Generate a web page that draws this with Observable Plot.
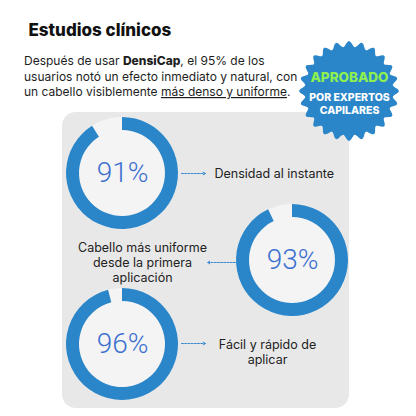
<!DOCTYPE html>
<html><head><meta charset="utf-8">
<script src="https://cdn.jsdelivr.net/npm/d3@7"></script>
<script src="https://cdn.jsdelivr.net/npm/@observablehq/plot@0.6"></script>
<style>body{margin:0;background:#fff}</style>
</head><body><div id="chart"></div>
<script>
// ---- data ----
const title = "Estudios clínicos";
const introLines = [
  [["Después de usar ", ""], ["DensiCap", "b"], [", el 95% de los", ""]],
  [["usuarios notó un efecto inmediato y natural, con", ""]],
  [["un cabello visiblemente ", ""], ["más denso y uniforme", "u"], [".", ""]]
];
const badgeLines = ["APROBADO", "POR EXPERTOS", "CAPILARES"];
const percents = [91, 93, 96];
const benefits = ["Densidad al instante", "Cabello más uniforme\ndesde la primera\naplicación", "Fácil y rápido de\naplicar"];

// ---- layout ----
const donutX = [122, 292, 122];
const donutY = [173, 260, 344];
const labelX = [214, 142, 267];
const labelY = [173, 262, 351];
const labelAnchor = ["start", "middle", "middle"];
const arrowX1 = [181, 235, 181], arrowX2 = [205, 207, 205];
const arrowY = [173, 262, 343];
const R_OUT = 56, R_IN = 43;
const FONT = "Inter, 'Open Sans', sans-serif";

const donuts = percents.map((p, i) => ({p, label: p + "%", x: donutX[i], y: donutY[i]}));
const labels = benefits.map((t, i) => ({t, x: labelX[i], y: labelY[i], a: labelAnchor[i]}));
const arrows = percents.map((p, i) => ({x1: arrowX1[i], x2: arrowX2[i], y: arrowY[i]}));

const svgNS = "http://www.w3.org/2000/svg";

function introMark(index, scales) {
  const g = document.createElementNS(svgNS, "g");
  introLines.forEach((segs, i) => {
    const t = document.createElementNS(svgNS, "text");
    t.setAttribute("x", scales.x(24));
    t.setAttribute("y", scales.y(65 + i * 15.5));
    t.setAttribute("text-anchor", "start");
    t.setAttribute("font-family", FONT);
    t.setAttribute("font-size", 12);
    t.setAttribute("fill", "#1e1e1e");
    segs.forEach(([s, st]) => {
      const ts = document.createElementNS(svgNS, "tspan");
      ts.textContent = s;
      if (st === "b") ts.setAttribute("font-weight", "800");
      if (st === "u") ts.setAttribute("text-decoration", "underline");
      t.appendChild(ts);
    });
    g.appendChild(t);
  });
  return g;
}

function donutMark(index, scales) {
  const g = document.createElementNS(svgNS, "g");
  const arc = d3.arc();
  donuts.forEach(d => {
    const cx = scales.x(d.x), cy = scales.y(d.y);
    const bg = document.createElementNS(svgNS, "circle");
    bg.setAttribute("cx", cx); bg.setAttribute("cy", cy); bg.setAttribute("r", R_OUT);
    bg.setAttribute("fill", "#f4f4f4");
    g.appendChild(bg);
    const p = document.createElementNS(svgNS, "path");
    p.setAttribute("d", arc({innerRadius: R_IN, outerRadius: R_OUT, startAngle: 0, endAngle: d.p / 100 * 2 * Math.PI}));
    p.setAttribute("transform", `translate(${cx},${cy})`);
    p.setAttribute("fill", "#2a86c9");
    g.appendChild(p);
  });
  return g;
}

function badgeMark(index, scales) {
  const cx = scales.x(349), cy = scales.y(91);
  const n = 24, pts = [];
  for (let k = 0; k <= 480; k++) {
    const a = k / 480 * 2 * Math.PI;
    const r = 47 + 2.8 * Math.cos(n * a);
    pts.push([cx + r * Math.sin(a), cy - r * Math.cos(a)]);
  }
  const p = document.createElementNS(svgNS, "path");
  p.setAttribute("d", d3.line()(pts) + "Z");
  p.setAttribute("fill", "#2a86c9");
  return p;
}

const chart = Plot.plot({
  width: 416, height: 416, margin: 0,
  x: {domain: [0, 416], range: [0, 416], axis: null},
  y: {domain: [0, 416], range: [0, 416], axis: null},
  style: {background: "#fff", fontFamily: FONT},
  marks: [
    Plot.text([title], {x: 28, y: 30, text: d => d, fontSize: 17, fontWeight: 800, fill: "#111", textAnchor: "start", fontFamily: FONT}),
    introMark,
    Plot.rect([0], {x1: 62, x2: 349, y1: 112, y2: 408, fill: "#e8e8e8", rx: 14}),
    badgeMark,
    Plot.text([badgeLines[0]], {x: 349, y: 77, text: d => d, fontSize: 13.5, fontWeight: 800, fill: "#8ef04e", fontFamily: FONT}),
    Plot.text([badgeLines.slice(1).join("\n")], {x: 349, y: 103, text: d => d, fontSize: 10.5, fontWeight: 800, fill: "#fff", lineHeight: 1.25, fontFamily: FONT}),
    donutMark,
    Plot.text(donuts, {x: "x", y: "y", text: "label", fontSize: 28, fontWeight: 300, fill: "#3b6fd0", fontFamily: "Roboto, sans-serif"}),
    Plot.arrow(arrows, {x1: "x1", x2: "x2", y1: "y", y2: "y", stroke: "#3a8ad0", strokeWidth: 1, strokeDasharray: "2,1.2", headLength: 4, bend: 0}),
    Plot.text(labels.filter(d => d.a === "start"), {x: "x", y: "y", text: "t", textAnchor: "start", fontSize: 12.5, fill: "#222", lineHeight: 1.2, fontFamily: FONT}),
    Plot.text(labels.filter(d => d.a === "middle"), {x: "x", y: "y", text: "t", textAnchor: "middle", fontSize: 12.5, fill: "#222", lineHeight: 1.2, fontFamily: FONT})
  ]
});
document.getElementById("chart").appendChild(chart);
</script>
</body></html>
